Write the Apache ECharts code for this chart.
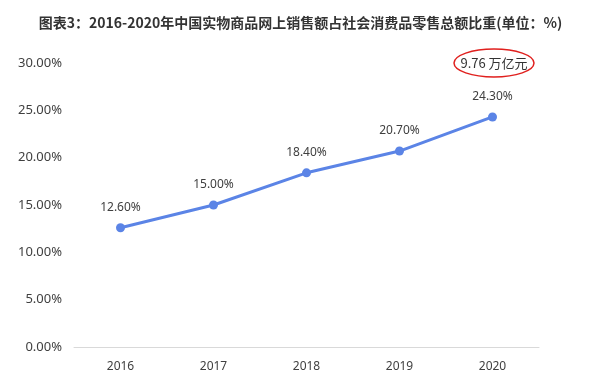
<!DOCTYPE html>
<html><head><meta charset="utf-8">
<script src="https://cdn.jsdelivr.net/npm/echarts@6/dist/echarts.min.js"></script>
<style>html,body{margin:0;padding:0;background:#fff}#c{width:601px;height:383px}</style>
</head><body><div id="c"></div>
<script>
const titleText = '图表3：2016-2020年中国实物商品网上销售额占社会消费品零售总额比重(单位：%)';
const categories = ['2016','2017','2018','2019','2020'];
const shareValues = [12.6, 15.0, 18.4, 20.7, 24.3];
const yTicks = [0, 5, 10, 15, 20, 25, 30];
const noteText = '9.76 万亿元';

const chart = echarts.init(document.getElementById('c'));
chart.setOption({
  animation: false,
  title: {
    text: titleText, left: 'center', top: 11,
    textStyle: {fontSize: 14, fontWeight: 'bold', color: '#333', fontFamily: 'Noto Sans CJK SC'}
  },
  grid: {left: 74, right: 62, top: 63, bottom: 36},
  xAxis: {
    type: 'category', data: categories, boundaryGap: true,
    axisLine: {lineStyle: {color: '#d9d9d9'}},
    axisTick: {show: false},
    axisLabel: {color: '#404040', fontSize: 12, margin: 14, fontFamily: 'Noto Sans'}
  },
  yAxis: {
    type: 'value', min: yTicks[0], max: yTicks[yTicks.length-1], interval: 5,
    splitLine: {show: false},
    axisLine: {show: false}, axisTick: {show: false},
    axisLabel: {color: '#404040', fontSize: 13, margin: 12, fontFamily: 'Noto Sans',
      formatter: v => v.toFixed(2) + '%'}
  },
  series: [{
    type: 'line', data: shareValues,
    symbol: 'circle', symbolSize: 9,
    lineStyle: {color: '#5b84e6', width: 3},
    itemStyle: {color: '#5b84e6'},
    label: {show: true, position: 'top', distance: 10, color: '#404040', fontSize: 12,
      fontFamily: 'Noto Sans', formatter: p => p.value.toFixed(2) + '%'}
  }],
  graphic: [
    {type: 'ellipse', shape: {cx: 494, cy: 63, rx: 40, ry: 14},
     style: {fill: 'none', stroke: '#e0201e', lineWidth: 1.5}},
    {type: 'text', x: 494, y: 63,
     style: {text: noteText, fill: '#333', fontSize: 13, fontFamily: 'Noto Sans CJK SC',
       align: 'center', verticalAlign: 'middle'}}
  ]
});
</script></body></html>
